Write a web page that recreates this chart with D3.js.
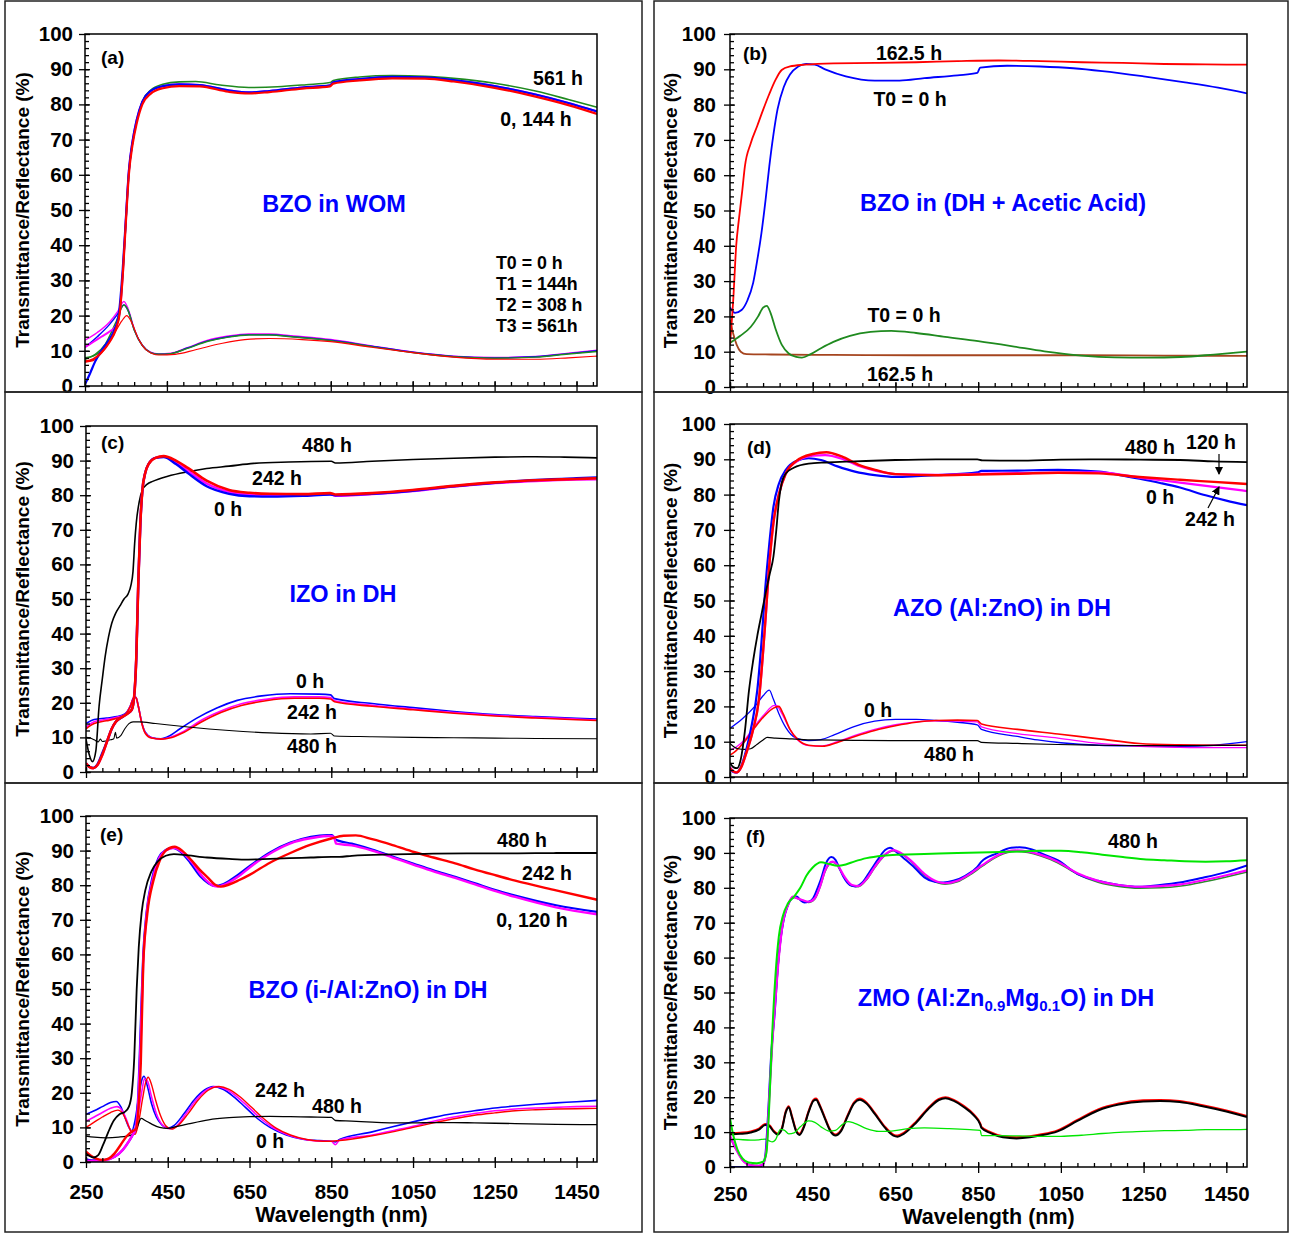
<!DOCTYPE html>
<html>
<head>
<meta charset="utf-8">
<script src="https://cdn.jsdelivr.net/npm/d3@7"></script>
<style>
  body { margin: 0; background: #fff; }
  text { font-family: "Liberation Sans", Arial, sans-serif; font-weight: bold; }
</style>
</head>
<body>
<svg id="chart" width="1289" height="1234"></svg>
<script>
// ---------- axis ticks ----------
const xTicks = [250, 450, 650, 850, 1050, 1250, 1450];
const yTicks = [0, 10, 20, 30, 40, 50, 60, 70, 80, 90, 100];

// ---------- (a) BZO in WOM ----------
const aT_magenta = [[250,11],[270,12.5],[290,14],[310,15.5],[325,17],[335,21],[343,33],[350,48],[357,61],[366,69.5],[376,75.5],[390,80.8],[410,83.8],[440,85.2],[480,85.7],[530,85.5],[600,84],[650,83.4],[700,83.8],[780,84.8],[848,85.4],[856,86.3],[920,87.2],[1000,87.8],[1080,87.7],[1150,86.9],[1250,85.2],[1350,82.8],[1430,80.4],[1500,78]];
const aT_green = [[250,8],[270,8.5],[290,10],[310,13],[325,16.5],[335,21],[343,33],[350,47],[357,60.5],[366,69],[376,75],[390,80.8],[410,84],[440,85.7],[480,86.4],[520,86.5],[580,85.5],[650,84.8],[720,85],[790,85.6],[848,86.2],[856,86.8],[920,87.8],[1000,88.2],[1080,88],[1150,87.4],[1250,86],[1350,83.8],[1430,81.4],[1500,79.2]];
const aT_blue = [[250,0.5],[262,3.5],[275,7],[290,10],[305,12.5],[320,15.5],[332,20],[342,33],[350,48],[357,61],[366,69.5],[376,75.5],[390,80.8],[410,83.8],[440,85.2],[480,85.7],[530,85.5],[600,84],[650,83.4],[700,83.8],[780,84.8],[848,85.4],[856,86.3],[920,87.2],[1000,87.8],[1080,87.7],[1150,86.9],[1250,85.2],[1350,82.8],[1430,80.4],[1500,78]];
const aT_red = [[250,7],[270,7.6],[290,9.5],[310,12.5],[325,16],[335,21],[343,33],[350,47],[357,60],[366,68.5],[376,74.5],[390,80],[410,83],[440,84.6],[480,85.2],[530,85.1],[600,83.6],[650,83.1],[700,83.5],[780,84.5],[848,85.1],[856,85.9],[920,86.8],[1000,87.4],[1080,87.3],[1150,86.5],[1250,84.7],[1350,82.2],[1430,79.8],[1500,77.3]];
const aR_magenta = [[250,13],[280,15.2],[310,18.2],[330,21.2],[345,24],[355,22],[370,16.3],[390,11.6],[410,9.6],[430,9.1],[460,9.3],[500,10.9],[550,13],[600,14.2],[650,14.8],[700,14.8],[760,14.2],[850,13.2],[950,11.4],[1050,9.7],[1150,8.5],[1250,8.1],[1350,8.4],[1430,9.3],[1500,10.2]];
const aR_blue = [[250,11],[280,14],[310,17.5],[330,20.5],[345,23],[355,21.5],[370,16],[390,11.5],[410,9.5],[430,9],[460,9.2],[500,10.8],[550,12.8],[600,14],[650,14.6],[700,14.6],[760,14],[850,13],[950,11.3],[1050,9.6],[1150,8.4],[1250,8],[1350,8.3],[1430,9.2],[1500,10]];
const aR_green = [[250,7.5],[275,9],[300,12],[325,18],[345,23],[355,21.5],[370,16],[390,11.5],[410,9.5],[430,9],[460,9.2],[500,10.7],[550,12.7],[600,13.9],[650,14.5],[700,14.5],[760,13.9],[850,12.9],[950,11.2],[1050,9.5],[1150,8.3],[1250,7.9],[1350,8.2],[1430,9.1],[1500,9.8]];
const aR_red = [[250,6.8],[270,7.2],[295,10],[320,14.5],[340,18.5],[352,20],[362,18.5],[380,13.5],[400,10.2],[430,8.8],[470,9],[520,10.3],[580,12],[640,13.2],[700,13.5],[780,13.2],[850,12.6],[950,11],[1050,9.5],[1150,8.2],[1250,7.6],[1350,7.6],[1430,8],[1500,8.5]];

// ---------- (b) BZO in (DH + Acetic Acid) ----------
const bT_0h = [[250,22.5],[262,21],[278,21.8],[292,24.5],[306,29.5],[316,36],[326,43.6],[336,53],[345,62.5],[355,71.5],[365,78.7],[380,85],[395,88.5],[415,90.8],[434,91.5],[455,91.3],[480,90],[530,88],[600,86.8],[660,86.8],[720,87.5],[800,88.3],[848,89],[855,90.5],[920,91],[1000,90.8],[1080,90.3],[1150,89.5],[1250,88],[1350,86.3],[1430,84.8],[1500,83.2]];
const bT_162h = [[250,12],[258,25],[265,40],[272,48],[280,56],[286,62.5],[300,69],[316,74],[330,78.5],[345,83],[360,87],[375,89.8],[395,90.8],[430,91.3],[500,91.7],[600,91.8],[700,92],[800,92.3],[900,92.5],[1000,92.3],[1100,92],[1200,91.8],[1300,91.5],[1400,91.4],[1500,91.3]];
const bR_0h = [[250,12.5],[275,14.5],[300,17],[318,20],[330,22.5],[339,23],[348,21],[360,16.5],[375,12],[392,9.5],[410,8.5],[424,8.3],[445,9.3],[470,11],[500,12.8],[540,14.5],[590,15.6],[640,15.9],[700,15.3],[770,14.2],[850,13],[930,11.6],[1010,10.1],[1100,8.9],[1180,8.4],[1260,8.3],[1340,8.5],[1420,9.2],[1500,10]];
const bR_162h = [[250,19],[258,15],[266,12],[276,10],[290,9.3],[350,9.2],[500,9.1],[700,9],[900,9],[1100,9],[1300,8.9],[1500,8.8]];

// ---------- (c) IZO in DH ----------
const cT_480h = [[250,9.5],[258,5],[266,3],[274,6],[282,19],[290,27],[297,33.5],[305,39],[313,43],[323,46],[333,48],[343,50],[353,51.5],[360,54],[365,58],[369,66],[373,72],[380,78],[388,81.5],[400,83.2],[413,84],[450,85.5],[500,86.8],[545,87.7],[600,88.4],[660,89.2],[746,89.6],[850,89.8],[860,89.3],[950,89.8],[1050,90.3],[1150,90.7],[1250,91],[1350,91.1],[1420,91],[1500,90.8]];
const cT_magenta = [[250,2.5],[258,1.5],[268,1.1],[278,2],[290,5],[302,9],[313,12.5],[323,14.5],[340,16],[353,17],[362,18],[368,22],[373,33],[378,55],[383,72],[388,81.5],[395,86.5],[403,89],[420,90.8],[440,91.1],[470,89.5],[500,87],[545,83.4],[600,81],[650,80.2],[700,80],[780,80],[847,80.3],[860,79.8],[950,80.3],[1049,81.2],[1150,82.5],[1251,83.5],[1350,84.1],[1450,84.5],[1500,84.6]];
const cT_blue = [[250,2.5],[258,1.5],[268,1.2],[278,2.2],[290,5.5],[302,9],[313,12.5],[323,14.5],[340,16],[353,17],[362,18],[368,22],[373,33],[378,55],[383,72],[388,81.5],[395,86.5],[403,89],[420,90.8],[440,91],[470,89],[500,86.3],[545,82.6],[600,80.4],[650,79.7],[700,79.6],[780,79.8],[847,80.2],[860,80],[950,80.4],[1049,81.3],[1150,82.6],[1251,83.6],[1350,84.4],[1450,84.9],[1500,85.1]];
const cT_red = [[250,2.5],[258,1.5],[268,1.1],[278,2],[290,5],[302,9],[313,12.5],[323,14.5],[340,16],[353,17],[362,18],[368,22],[373,33],[378,55],[383,72],[388,81.5],[395,86.5],[403,89],[420,90.8],[440,91.3],[470,90],[500,87.8],[545,84.2],[600,81.5],[650,80.7],[700,80.4],[780,80.3],[847,80.6],[860,80.2],[950,80.6],[1049,81.5],[1150,82.7],[1251,83.7],[1350,84.3],[1450,84.7],[1500,84.9]];
const cR_blue = [[250,14],[270,15.2],[300,15.6],[325,16],[345,16.8],[358,19],[366,21.3],[372,21.6],[378,19],[386,14.5],[395,11.5],[410,10],[433,9.6],[455,10.5],[480,12.5],[520,15.5],[570,18.5],[620,20.7],[680,22],[750,22.6],[820,22.5],[848,22.3],[858,21.2],[950,19.8],[1050,18.6],[1150,17.5],[1250,16.6],[1350,16],[1450,15.5],[1500,15.3]];
const cR_magenta = [[250,13],[270,14.5],[300,15.2],[325,15.8],[345,16.6],[358,18.9],[366,21.3],[372,21.6],[378,19],[386,14.4],[395,11.3],[410,9.9],[433,9.5],[460,10.2],[490,11.8],[530,14.8],[580,17.6],[630,19.7],[690,21],[760,21.7],[820,21.7],[848,21.5],[858,20.6],[950,19.3],[1050,18.2],[1150,17.2],[1250,16.4],[1350,15.8],[1450,15.3],[1500,15]];
const cR_red = [[250,12.5],[270,14],[300,14.8],[325,15.5],[345,16.5],[358,18.8],[366,21.3],[372,21.6],[378,19],[386,14.3],[395,11.2],[410,9.8],[433,9.5],[460,10],[490,11.5],[530,14.3],[580,17.2],[630,19.2],[690,20.6],[760,21.3],[820,21.3],[848,21.1],[858,20.3],[950,19],[1050,18],[1150,17],[1250,16.2],[1350,15.6],[1450,15.1],[1500,14.9]];
const cR_480h = [[250,10],[260,9.8],[270,9.3],[280,8.7],[285,9.5],[290,8.8],[300,9],[310,9.3],[318,9.6],[322,11.5],[325,9.8],[335,10.5],[345,12.5],[355,14],[365,14.5],[380,14.5],[420,14],[500,13],[600,12],[700,11.3],[800,11],[848,11.2],[858,10.4],[950,10.2],[1050,10],[1150,9.9],[1250,9.8],[1350,9.7],[1500,9.6]];

// ---------- (d) AZO (Al:ZnO) in DH ----------
const dT_blue = [[250,2],[258,1.4],[265,1.2],[275,2.5],[290,8],[303,15],[316,24.6],[326,38],[335,53],[345,66],[355,76.5],[368,83],[385,87],[410,89.5],[440,90.3],[470,89.8],[510,88],[552,86.5],[600,85.5],[650,85],[700,85.2],[748,85.5],[848,86.3],[858,86.7],[945,86.8],[1043,87],[1142,86.5],[1190,85.6],[1240,84.5],[1290,83.3],[1338,82],[1400,79.8],[1450,78.3],[1500,77]];
const dT_magenta = [[250,2.8],[258,1.6],[266,1.3],[276,2.5],[290,7],[305,13],[320,22],[335,43],[345,60],[355,72],[368,80],[385,86],[410,89.3],[450,91],[480,91.2],[520,90.2],[560,88.2],[601,86.8],[650,85.8],[748,85.6],[848,85.9],[945,86.1],[1043,86.2],[1142,86.3],[1240,84.8],[1338,83.4],[1420,82.2],[1500,81]];
const dT_red = [[250,2.5],[258,1.6],[266,1.3],[276,2.5],[290,7],[305,13],[320,22],[335,43.5],[345,60],[355,72],[368,80],[385,86],[410,89.5],[450,91.5],[483,92],[520,90.8],[560,88.5],[601,87],[650,85.8],[748,85.5],[848,85.7],[945,85.9],[1043,86.2],[1142,86],[1240,85],[1338,84.2],[1420,83.6],[1500,83]];
const dT_480h = [[250,4],[258,2.8],[267,2.5],[276,5],[286,13],[296,24.6],[306,33],[316,40],[326,46],[336,52],[346,57.5],[355,62.4],[362,70],[368,78],[375,83.3],[385,86],[404,87.6],[440,88.8],[483,89.1],[552,89.4],[650,89.8],[748,90],[848,90],[860,89.7],[945,89.6],[1050,89.9],[1142,90],[1240,89.9],[1338,89.8],[1420,89.4],[1500,89.2]];
const dR_blue = [[250,13.8],[280,16.5],[310,20],[330,23],[345,24.6],[355,22],[368,18],[385,14],[410,11],[440,10.3],[470,10.6],[503,12],[550,14.3],[600,15.8],[650,16.3],[700,16.3],[748,16],[800,15.5],[848,14.8],[858,13.5],[945,11.5],[994,10.5],[1050,9.7],[1142,9],[1240,8.8],[1338,8.7],[1420,9],[1500,10]];
const dR_magenta = [[250,7.5],[265,8.5],[285,10.5],[310,14.5],[335,18],[355,20.2],[362,20.3],[375,18],[395,13.5],[415,10.3],[440,8.9],[473,8.8],[510,10],[552,11.8],[600,13.5],[650,14.8],[700,15.6],[748,15.9],[848,15.6],[858,14.2],[945,12.3],[1043,11],[1142,9.5],[1240,8.7],[1338,8.4],[1420,8.3],[1500,8.3]];
const dR_red = [[250,6.2],[265,7.5],[285,10],[310,14],[335,17.5],[355,19.5],[368,20],[378,18],[395,13.5],[415,10.5],[440,9],[473,8.7],[510,9.8],[552,11.5],[600,13.2],[650,14.5],[700,15.5],[748,16],[800,16.1],[848,16],[858,15],[945,13.5],[1043,12.2],[1142,10.8],[1240,9.5],[1338,9.1],[1420,9],[1500,9]];
const dR_480h = [[250,9.5],[260,8.5],[270,8],[285,7.8],[300,8],[315,9.2],[330,10.5],[340,11.2],[360,11],[400,10.8],[450,10.5],[550,10.4],[650,10.3],[750,10.3],[848,10.3],[858,9.8],[945,9.5],[1043,9.2],[1142,9],[1240,8.9],[1338,8.9],[1500,9]];

// ---------- (e) BZO (i-/Al:ZnO) in DH ----------
const eT_blue = [[250,0.8],[265,0.5],[290,0.5],[320,1.5],[340,3.5],[355,6],[365,8],[372,10],[378,20],[384,40],[390,60],[398,72],[412,82],[428,88],[445,90.2],[462,90.8],[480,89.8],[505,86.5],[530,82.5],[550,80.5],[565,79.8],[585,80.3],[610,82],[650,85.5],[700,89.5],[750,92.3],[800,94],[840,94.5],[852,94.5],[860,93.2],[900,92],[950,90.3],[1000,88.3],[1052,86.2],[1100,84.3],[1153,82.4],[1200,80.6],[1254,78.5],[1300,77],[1400,74.2],[1500,72.3]];
const eT_magenta = [[250,0.4],[265,0.3],[290,0.4],[320,1.5],[340,3.5],[355,6],[365,8],[372,10],[378,18],[384,36],[390,58],[398,71],[412,81],[428,87.5],[445,90],[465,90.8],[485,89.6],[510,86.5],[535,82.5],[555,80.3],[572,79.6],[592,80.3],[620,82.3],[660,86],[710,89.8],[760,92.5],[810,93.8],[845,94.2],[856,94],[862,92],[900,91.5],[950,90],[1000,88],[1052,85.9],[1100,84],[1153,82.1],[1200,80.3],[1254,78.2],[1300,76.6],[1400,73.6],[1500,71.6]];
const eT_red = [[250,3],[262,1.8],[275,1],[290,0.6],[305,1],[320,2.5],[335,5],[350,7.5],[365,9],[372,9.5],[378,15],[384,28.4],[390,57],[400,71.8],[415,81.4],[430,87],[445,90],[467,91.1],[485,90],[508,87.2],[528,84.5],[548,82.2],[565,80.2],[580,79.6],[600,80.2],[625,81.5],[650,83],[700,86.5],[750,89.3],[800,91.7],[850,93.5],[880,94.3],[910,94.4],[950,93.3],[1000,91.6],[1052,89.6],[1100,88],[1153,86.3],[1200,84.6],[1254,82.8],[1300,81.3],[1400,78.5],[1500,75.8]];
const eT_480h = [[250,2.5],[258,1.8],[268,1.3],[280,2],[292,5],[304,8.5],[318,12],[332,13.8],[345,14.5],[355,16],[362,20],[368,30],[374,50],[379,62],[386,72],[395,78.5],[410,84],[425,86.8],[445,88.5],[465,89],[500,88.6],[546,88],[600,87.6],[647,87.4],[700,87.6],[748,87.8],[800,88],[850,88.2],[870,88.2],[900,88.5],[1000,88.9],[1100,89.1],[1200,89.2],[1300,89.2],[1400,89.3],[1500,89.3]];
const eR_blue = [[250,13.8],[270,14.8],[290,16],[310,17.2],[324,17.5],[335,16],[345,13],[355,10],[362,9],[370,12],[378,18],[386,23.5],[392,24.8],[400,22],[410,17],[422,13],[435,10.8],[450,9.8],[465,10.5],[490,14],[515,18],[540,20.8],[561,21.8],[585,21],[610,19],[640,15.8],[670,12.5],[700,10],[740,7.8],[780,6.6],[820,6.2],[850,6],[860,5.8],[870,6.5],[950,8.7],[1000,10.2],[1050,11.6],[1100,12.9],[1150,14],[1200,14.8],[1250,15.6],[1300,16.2],[1350,16.7],[1400,17.1],[1450,17.4],[1500,17.8]];
const eR_magenta = [[250,11.8],[270,13],[290,14.3],[310,15.5],[326,16],[338,15],[350,12],[360,9],[368,9],[376,13],[386,20],[393,24],[400,23.5],[410,19],[422,14],[435,11],[455,9.6],[470,10.2],[495,14],[520,18],[545,20.8],[568,21.8],[592,21],[618,19],[648,15.8],[678,12.5],[708,9.9],[745,7.8],[785,6.5],[825,6],[850,6],[860,5],[870,6.3],[950,7.8],[1000,9],[1050,10.3],[1100,11.8],[1150,13],[1200,14],[1250,14.8],[1300,15.3],[1350,15.6],[1400,15.8],[1450,16],[1500,16.1]];
const eR_red = [[250,10],[270,11.5],[290,13],[310,14.3],[328,15],[340,14],[352,11],[362,8.5],[370,8],[378,11],[388,18],[396,23],[402,24.5],[410,22.5],[420,18],[432,13.5],[445,10.5],[460,9.5],[475,10.5],[500,14],[525,18],[550,20.8],[575,21.8],[600,21],[625,19],[655,15.8],[685,12.5],[715,9.8],[750,7.8],[790,6.5],[830,6],[850,6],[870,6.2],[950,7.6],[1000,8.7],[1050,10],[1100,11.3],[1150,12.5],[1200,13.5],[1250,14.2],[1300,14.8],[1350,15.1],[1400,15.3],[1450,15.4],[1500,15.5]];
const eR_480h = [[250,7.5],[270,7.2],[300,7],[330,7.2],[350,7.5],[365,8],[375,10],[385,12.6],[395,12],[410,11],[430,10],[450,9.7],[470,10.2],[500,11],[550,12.2],[600,12.8],[650,13.1],[700,13.2],[750,13.1],[800,13],[850,12.9],[860,12],[900,11.8],[950,11.5],[1000,11.3],[1050,11.3],[1100,11.4],[1150,11.4],[1200,11.3],[1300,11.1],[1400,10.9],[1500,10.8]];

// ---------- (f) ZMO (Al:Zn0.9Mg0.1O) in DH ----------
const fT_green = [[250,8.5],[265,5],[280,2],[300,0.6],[320,0.4],[330,0.8],[338,5],[345,20],[352,35],[360,48],[368,60],[378,70],[390,75],[402,77.3],[412,77],[425,76.3],[440,75.8],[455,76.8],[468,80.3],[480,84.7],[498,87.3],[510,86.3],[525,83.3],[545,80.5],[560,80.3],[580,82.3],[600,85.8],[620,88.8],[645,90.6],[660,90],[690,87.3],[720,83.7],[750,81.5],[770,81],[800,81.7],[830,83.7],[860,86.2],[900,89.2],[940,90.4],[970,90.1],[1000,89.2],[1042,87.2],[1090,83.9],[1140,81.6],[1190,80.4],[1240,79.9],[1290,80],[1340,80.5],[1400,81.8],[1450,83.1],[1500,84.5]];
const fT_blue = [[250,0],[300,0],[318,0],[328,0.5],[335,3],[342,15],[350,33],[358,44],[366,58],[372,65],[380,71],[390,75],[400,77],[411,77.5],[420,76.5],[430,75.8],[440,76],[451,77],[462,80],[470,82.5],[482,87],[495,88.8],[505,88],[515,85.5],[525,83],[540,80.8],[554,80.4],[570,81.5],[589,84.8],[610,88.5],[625,90.8],[637,91.5],[650,90.5],[670,88.5],[697,85.7],[720,83],[745,81.7],[766,81.5],[790,82],[820,83.5],[848,86],[858,87.5],[894,89.8],[930,91.5],[950,91.6],[980,91],[1010,89.5],[1042,87.9],[1090,84],[1140,82],[1190,80.8],[1239,80.3],[1290,80.8],[1337,81.5],[1390,82.8],[1450,84.5],[1500,86.4]];
const fT_magenta = [[250,9],[265,5],[280,2],[300,0.5],[320,0.3],[330,0.8],[338,5],[345,20],[352,35],[360,48],[368,60],[378,70],[390,75],[402,77.5],[412,77],[425,76.5],[440,76],[455,77],[468,80.5],[480,85],[498,87.5],[510,86.5],[525,83.5],[545,80.8],[560,80.5],[580,82.5],[600,86],[620,89],[645,90.8],[660,90.2],[690,87.5],[720,84],[750,81.8],[770,81.3],[800,82],[830,84],[860,86.5],[900,89.5],[940,90.7],[970,90.4],[1000,89.5],[1042,87.5],[1090,84.2],[1140,82],[1190,80.8],[1240,80.3],[1290,80.5],[1340,81],[1400,82.3],[1450,83.6],[1500,85]];
const fT_480h = [[250,14],[258,9],[268,5],[280,2.5],[295,1.3],[315,1.1],[330,1.5],[338,4],[345,18],[352,38],[360,55],[368,66],[378,72],[390,75.5],[405,77.5],[420,80],[435,83.5],[450,85.8],[470,87.3],[490,86.8],[510,86.3],[530,86.7],[550,87.5],[580,88.5],[620,89.2],[660,89.5],[720,89.7],[800,90],[880,90.2],[950,90.4],[1000,90.6],[1050,90.6],[1100,90.2],[1150,89.5],[1200,88.8],[1250,88.2],[1300,87.9],[1350,87.6],[1400,87.5],[1450,87.6],[1500,87.9]];
const fR_red = [[250,9.6],[275,9.8],[300,10.2],[320,11],[335,12.3],[345,12],[355,10.5],[365,9.6],[375,11],[385,16],[392,17.4],[400,14.5],[410,10.5],[418,9.5],[428,11.5],[440,16],[452,19.3],[458,19.6],[468,17.5],[480,14],[493,10.5],[505,9.3],[518,10.5],[535,15],[550,18.5],[564,19.6],[580,18.5],[600,15.5],[625,11.5],[645,9.3],[655,9],[670,9.8],[700,13],[730,17],[755,19.5],[771,20],[790,19.3],[815,17.5],[840,15],[855,12.5],[858,11.5],[880,10],[910,8.8],[943,8.5],[975,8.8],[1000,9.3],[1042,10.5],[1090,13.5],[1140,16.5],[1190,18.2],[1249,19.1],[1290,19.2],[1337,18.9],[1390,17.8],[1450,16.2],[1500,14.6]];
const fR_black = [[250,9.3],[275,9.5],[300,9.9],[320,10.7],[335,12],[345,11.7],[355,10.2],[365,9.3],[375,10.7],[385,15.7],[392,17.1],[400,14.2],[410,10.2],[418,9.2],[428,11.2],[440,15.7],[452,19],[458,19.3],[468,17.2],[480,13.7],[493,10.2],[505,9],[518,10.2],[535,14.7],[550,18.2],[564,19.3],[580,18.2],[600,15.2],[625,11.2],[645,9],[655,8.7],[670,9.5],[700,12.7],[730,16.7],[755,19.2],[771,19.7],[790,19],[815,17.2],[840,14.7],[855,12.2],[858,11.2],[880,9.7],[910,8.5],[943,8.2],[975,8.5],[1000,9],[1042,10.2],[1090,13.2],[1140,16.2],[1190,17.9],[1249,18.8],[1290,18.9],[1337,18.6],[1390,17.5],[1450,15.9],[1500,14.3]];
const fR_480h = [[250,8],[270,7.9],[300,7.7],[320,7.8],[335,8],[345,7.5],[352,7.2],[360,7.8],[372,10.8],[382,10.5],[392,9.5],[405,9.8],[420,11.5],[440,13.2],[455,12.8],[470,11.5],[490,10.3],[505,10.5],[520,12],[535,13],[550,12.6],[580,11],[610,10.2],[640,10.3],[680,11],[720,11.2],[780,11],[830,10.7],[855,10.5],[858,9],[900,9],[950,8.9],[1000,8.8],[1050,8.8],[1100,9.1],[1150,9.6],[1200,10],[1250,10.2],[1300,10.4],[1350,10.5],[1400,10.7],[1450,10.7],[1500,10.8]];

// ---------- colours ----------
const BLUE = "#0000ff", RED = "#ff0000", MAG = "#ff00ff", BLK = "#000000";
const GRN = "#1f8a1f", BRN = "#a5451f", LIME = "#00e600", DGRN = "#2e8b2e";

// ---------- panel layout ----------
const panels = [
  { key: "a", frame: [5, 1, 637, 391], plot: [85, 34, 597, 386], bottom: false,
    letter: [101, 64],
    title: { t: "BZO in WOM", x: 334, y: 212 },
    series: [
      [aR_magenta, MAG, 1.4], [aR_blue, BLUE, 1.4], [aR_green, GRN, 1.4], [aR_red, RED, 1.2],
      [aT_magenta, MAG, 2], [aT_green, GRN, 1.6], [aT_blue, BLUE, 2.2], [aT_red, RED, 2.2]
    ],
    notes: [
      ["561 h", 558, 85, "middle"], ["0, 144 h", 536, 126, "middle"],
      ["T0 = 0 h", 496, 269, "start", 17.8], ["T1 = 144h", 496, 290, "start", 17.8],
      ["T2 = 308 h", 496, 311, "start", 17.8], ["T3 = 561h", 496, 332, "start", 17.8]
    ] },
  { key: "b", frame: [654, 1, 634, 391], plot: [730, 34, 1247, 387], bottom: false,
    letter: [743, 60],
    title: { t: "BZO in (DH + Acetic Acid)", x: 1003, y: 211 },
    series: [
      [bR_162h, BRN, 1.8], [bR_0h, GRN, 1.8], [bT_0h, BLUE, 1.8], [bT_162h, RED, 1.8]
    ],
    notes: [
      ["162.5 h", 909, 60, "middle"], ["T0 = 0 h", 910, 106, "middle"],
      ["T0 = 0 h", 904, 322, "middle"], ["162.5 h", 900, 381, "middle"]
    ] },
  { key: "c", frame: [5, 392, 637, 391], plot: [86, 426, 597, 772], bottom: false,
    letter: [101, 449],
    title: { t: "IZO in DH", x: 343, y: 602 },
    series: [
      [cR_blue, BLUE, 1.6], [cR_magenta, MAG, 1.6], [cR_red, RED, 1.6], [cR_480h, BLK, 1.1],
      [cT_480h, BLK, 1.6], [cT_magenta, MAG, 2.4], [cT_blue, BLUE, 2.4], [cT_red, RED, 2.6]
    ],
    notes: [
      ["480 h", 327, 452, "middle"], ["242 h", 277, 485, "middle"], ["0 h", 228, 516, "middle"],
      ["0 h", 310, 688, "middle"], ["242 h", 312, 719, "middle"], ["480 h", 312, 753, "middle"]
    ] },
  { key: "d", frame: [654, 392, 634, 391], plot: [730, 424, 1247, 777], bottom: false,
    letter: [747, 454],
    title: { t: "AZO (Al:ZnO) in DH", x: 1002, y: 616 },
    series: [
      [dR_blue, BLUE, 1.3], [dR_magenta, MAG, 1.3], [dR_red, RED, 1.6], [dR_480h, BLK, 1.2],
      [dT_blue, BLUE, 2.2], [dT_magenta, MAG, 2.2], [dT_red, RED, 2.4], [dT_480h, BLK, 1.8]
    ],
    notes: [
      ["480 h", 1150, 454, "middle"], ["120 h", 1211, 449, "middle"],
      ["0 h", 1160, 504, "middle"], ["242 h", 1210, 526, "middle"],
      ["0 h", 878, 717, "middle"], ["480 h", 949, 761, "middle"]
    ],
    arrows: [[1219, 454, 1219, 474], [1208, 508, 1219, 487]] },
  { key: "e", frame: [5, 783, 637, 449], plot: [86, 816, 597, 1162], bottom: true, pad: 16,
    letter: [100, 841],
    title: { t: "BZO (i-/Al:ZnO) in DH", x: 368, y: 998 },
    series: [
      [eR_blue, BLUE, 1.6], [eR_magenta, MAG, 1.6], [eR_red, RED, 1.4], [eR_480h, BLK, 1.3],
      [eT_blue, BLUE, 2.2], [eT_magenta, MAG, 2.4], [eT_red, RED, 2.4], [eT_480h, BLK, 1.8]
    ],
    notes: [
      ["480 h", 522, 847, "middle"], ["242 h", 547, 880, "middle"], ["0, 120 h", 532, 927, "middle"],
      ["242 h", 280, 1097, "middle"], ["480 h", 337, 1113, "middle"], ["0 h", 270, 1148, "middle"]
    ] },
  { key: "f", frame: [654, 783, 634, 449], plot: [730, 818, 1247, 1167], bottom: true, pad: 13,
    letter: [746, 843],
    title: { t: "ZMO", x: 1006, y: 1006 },
    series: [
      [fR_red, RED, 2], [fR_black, BLK, 2], [fR_480h, LIME, 1.3],
      [fT_green, DGRN, 1.6], [fT_blue, BLUE, 2], [fT_magenta, MAG, 2.2], [fT_480h, LIME, 2]
    ],
    notes: [["480 h", 1133, 848, "middle"]] }
];

const svg = d3.select("#chart");

svg.append("defs").append("marker")
  .attr("id", "arrow")
  .attr("viewBox", "0 0 8 8")
  .attr("refX", 7).attr("refY", 4)
  .attr("markerWidth", 7).attr("markerHeight", 7)
  .attr("orient", "auto")
  .append("path").attr("d", "M0,0 L8,4 L0,8 z").attr("fill", "#000");

panels.forEach(function (p) {
  const g = svg.append("g");
  const [x0, y0, x1, y1] = p.plot;

  // outer frame
  g.append("rect")
    .attr("x", p.frame[0]).attr("y", p.frame[1])
    .attr("width", p.frame[2]).attr("height", p.frame[3])
    .attr("fill", "none").attr("stroke", "#222").attr("stroke-width", 1.5);

  const x = d3.scaleLinear().domain([250, 1500]).range([x0, x1]);
  const y = d3.scaleLinear().domain([0, 100]).range([y1, y0]);

  g.append("clipPath").attr("id", "clip-" + p.key)
    .append("rect").attr("x", x0).attr("y", y0).attr("width", x1 - x0).attr("height", y1 - y0);

  // curves
  const line = d3.line()
    .x(d => x(d[0]))
    .y(d => y(d[1]))
    .curve(d3.curveMonotoneX);
  const curves = g.append("g").attr("clip-path", "url(#clip-" + p.key + ")");
  p.series.forEach(function (s) {
    curves.append("path")
      .datum(s[0])
      .attr("d", line)
      .attr("fill", "none")
      .attr("stroke", s[1])
      .attr("stroke-width", s[2])
      .attr("stroke-linejoin", "round");
  });

  // minor ticks, inward
  g.append("g").attr("transform", `translate(0,${y1})`)
    .call(d3.axisBottom(x).tickValues(d3.range(250, 1500, 40)).tickSize(-4).tickFormat(""))
    .call(a => a.select(".domain").remove());
  g.append("g").attr("transform", `translate(${x0},0)`)
    .call(d3.axisLeft(y).tickValues(d3.range(0, 100, 2)).tickSize(-4).tickFormat(""))
    .call(a => a.select(".domain").remove());

  // major ticks, inward part
  g.append("g").attr("transform", `translate(0,${y1})`)
    .call(d3.axisBottom(x).tickValues(xTicks).tickSize(-5).tickFormat(""))
    .call(a => a.select(".domain").remove());
  g.append("g").attr("transform", `translate(${x0},0)`)
    .call(d3.axisLeft(y).tickValues(yTicks).tickSize(-5).tickFormat(""))
    .call(a => a.select(".domain").remove());

  // major ticks, outward part with labels
  const xa = g.append("g").attr("transform", `translate(0,${y1})`)
    .call(d3.axisBottom(x).tickValues(xTicks).tickSize(6).tickPadding(p.pad || 4)
      .tickFormat(p.bottom ? d3.format("d") : ""));
  xa.select(".domain").remove();
  xa.selectAll("text").attr("font-size", 20.5).attr("font-family", null).attr("fill", "#000");

  const left = p.frame[0] < 100;
  const ya = g.append("g").attr("transform", `translate(${x0},0)`)
    .call(d3.axisLeft(y).tickValues(yTicks).tickSize(6).tickPadding(left ? 6 : 8));
  ya.select(".domain").remove();
  ya.selectAll("text").attr("font-size", 20.5).attr("font-family", null).attr("fill", "#000");
  g.selectAll(".tick line").attr("stroke", "#000").attr("stroke-width", 1.3);

  // plot box
  g.append("rect")
    .attr("x", x0).attr("y", y0).attr("width", x1 - x0).attr("height", y1 - y0)
    .attr("fill", "none").attr("stroke", "#000").attr("stroke-width", 1.5);

  // y title
  g.append("text")
    .attr("transform", `translate(${left ? 29 : 677},${(y0 + y1) / 2}) rotate(-90)`)
    .attr("text-anchor", "middle")
    .attr("font-size", 19)
    .text("Transmittance/Reflectance (%)");

  if (p.bottom) {
    g.append("text")
      .attr("x", (x0 + x1) / 2).attr("y", p.key === "e" ? 1222 : 1224)
      .attr("text-anchor", "middle")
      .attr("font-size", 21.5)
      .text("Wavelength (nm)");
  }

  // panel letter
  g.append("text")
    .attr("x", p.letter[0]).attr("y", p.letter[1])
    .attr("font-size", 19)
    .text("(" + p.key + ")");

  // blue title
  const tt = g.append("text")
    .attr("x", p.title.x).attr("y", p.title.y)
    .attr("text-anchor", "middle")
    .attr("font-size", 23.5)
    .attr("fill", BLUE);
  if (p.key === "f") {
    tt.append("tspan").text("ZMO (Al:Zn");
    tt.append("tspan").attr("font-size", 15).attr("dy", 5).text("0.9");
    tt.append("tspan").attr("dy", -5).text("Mg");
    tt.append("tspan").attr("font-size", 15).attr("dy", 5).text("0.1");
    tt.append("tspan").attr("dy", -5).text("O) in DH");
  } else {
    tt.text(p.title.t);
  }

  // annotations
  p.notes.forEach(function (n) {
    g.append("text")
      .attr("x", n[1]).attr("y", n[2])
      .attr("text-anchor", n[3])
      .attr("font-size", n[4] || 19.5)
      .text(n[0]);
  });

  (p.arrows || []).forEach(function (a) {
    g.append("line")
      .attr("x1", a[0]).attr("y1", a[1]).attr("x2", a[2]).attr("y2", a[3])
      .attr("stroke", "#000").attr("stroke-width", 1.2)
      .attr("marker-end", "url(#arrow)");
  });
});
</script>
</body>
</html>
